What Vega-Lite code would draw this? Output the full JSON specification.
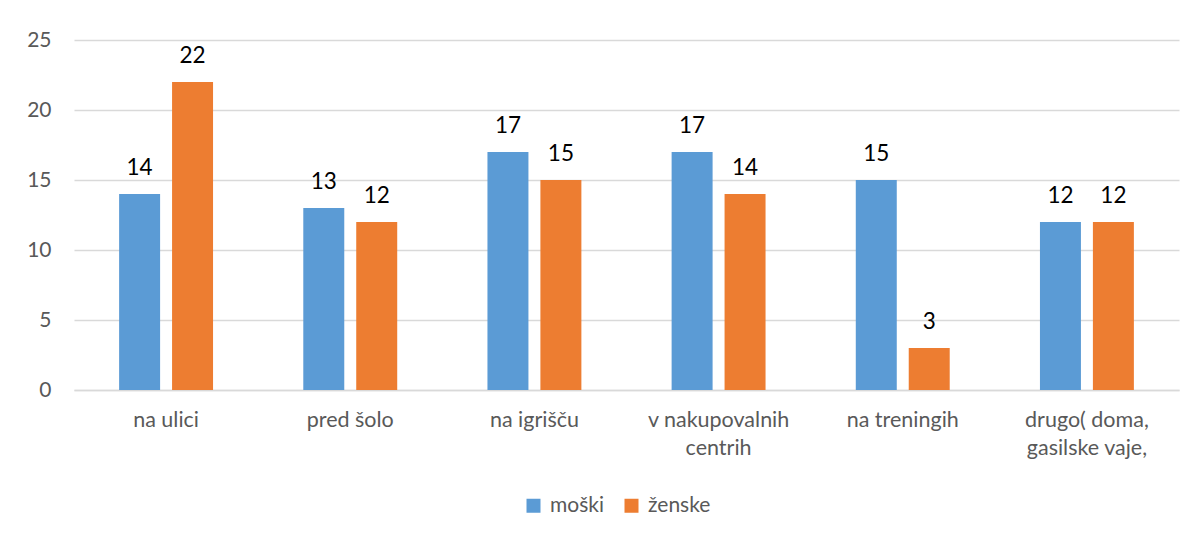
{
  "$schema": "https://vega.github.io/schema/vega-lite/v6.json",
  "autosize": "none",
  "width": 1105,
  "height": 350,
  "padding": {"left": 74, "top": 40, "right": 16, "bottom": 145},
  "background": "white",
  "config": {
    "view": {"stroke": null},
    "font": "Lato"
  },
  "data": {
    "values": [
      {"kraj": "na ulici", "spol": "moški", "stevilo": 14},
      {"kraj": "na ulici", "spol": "ženske", "stevilo": 22},
      {"kraj": "pred šolo", "spol": "moški", "stevilo": 13},
      {"kraj": "pred šolo", "spol": "ženske", "stevilo": 12},
      {"kraj": "na igrišču", "spol": "moški", "stevilo": 17},
      {"kraj": "na igrišču", "spol": "ženske", "stevilo": 15},
      {"kraj": "v nakupovalnih centrih", "spol": "moški", "stevilo": 17},
      {"kraj": "v nakupovalnih centrih", "spol": "ženske", "stevilo": 14},
      {"kraj": "na treningih", "spol": "moški", "stevilo": 15},
      {"kraj": "na treningih", "spol": "ženske", "stevilo": 3},
      {"kraj": "drugo( doma, gasilske vaje,", "spol": "moški", "stevilo": 12},
      {"kraj": "drugo( doma, gasilske vaje,", "spol": "ženske", "stevilo": 12}
    ]
  },
  "encoding": {
    "x": {
      "field": "kraj",
      "type": "nominal",
      "sort": null,
      "title": null,
      "scale": {"paddingInner": 0.49, "paddingOuter": 0.245},
      "axis": {
        "labelAngle": 0,
        "labelFontSize": 21.5,
        "labelColor": "#595959",
        "labelPadding": 19,
        "labelLineHeight": 28,
        "labelBaseline": "top",
        "ticks": false,
        "domain": true,
        "domainColor": "#d9d9d9",
        "domainWidth": 1.5,
        "labelExpr": "datum.value == 'v nakupovalnih centrih' ? ['v nakupovalnih', 'centrih'] : datum.value == 'drugo( doma, gasilske vaje,' ? ['drugo( doma,', 'gasilske vaje,'] : datum.value"
      }
    },
    "xOffset": {
      "field": "spol",
      "type": "nominal",
      "scale": {"paddingInner": 0.226, "paddingOuter": 0}
    },
    "y": {
      "field": "stevilo",
      "type": "quantitative",
      "title": null,
      "scale": {"domain": [0, 25], "nice": false},
      "axis": {
        "values": [0, 5, 10, 15, 20, 25],
        "labelFontSize": 21,
        "labelColor": "#595959",
        "labelPadding": 23,
        "ticks": false,
        "domain": false,
        "gridColor": "#d9d9d9",
        "gridWidth": 1.5
      }
    }
  },
  "layer": [
    {
      "mark": {"type": "bar"},
      "encoding": {
        "color": {
          "field": "spol",
          "type": "nominal",
          "scale": {"domain": ["moški", "ženske"], "range": ["#5B9BD5", "#ED7D31"]},
          "legend": {
            "title": null,
            "orient": "none",
            "direction": "horizontal",
            "legendX": 449,
            "legendY": 455,
            "symbolType": "square",
            "symbolSize": 196,
            "symbolStrokeWidth": 0,
            "labelFontSize": 21,
            "labelColor": "#595959",
            "labelOffset": 6,
            "columnPadding": 17
          }
        }
      }
    },
    {
      "mark": {"type": "text", "fontSize": 22.5, "color": "#000000", "baseline": "alphabetic", "dy": -19},
      "encoding": {
        "text": {"field": "stevilo", "type": "quantitative"}
      }
    }
  ]
}
